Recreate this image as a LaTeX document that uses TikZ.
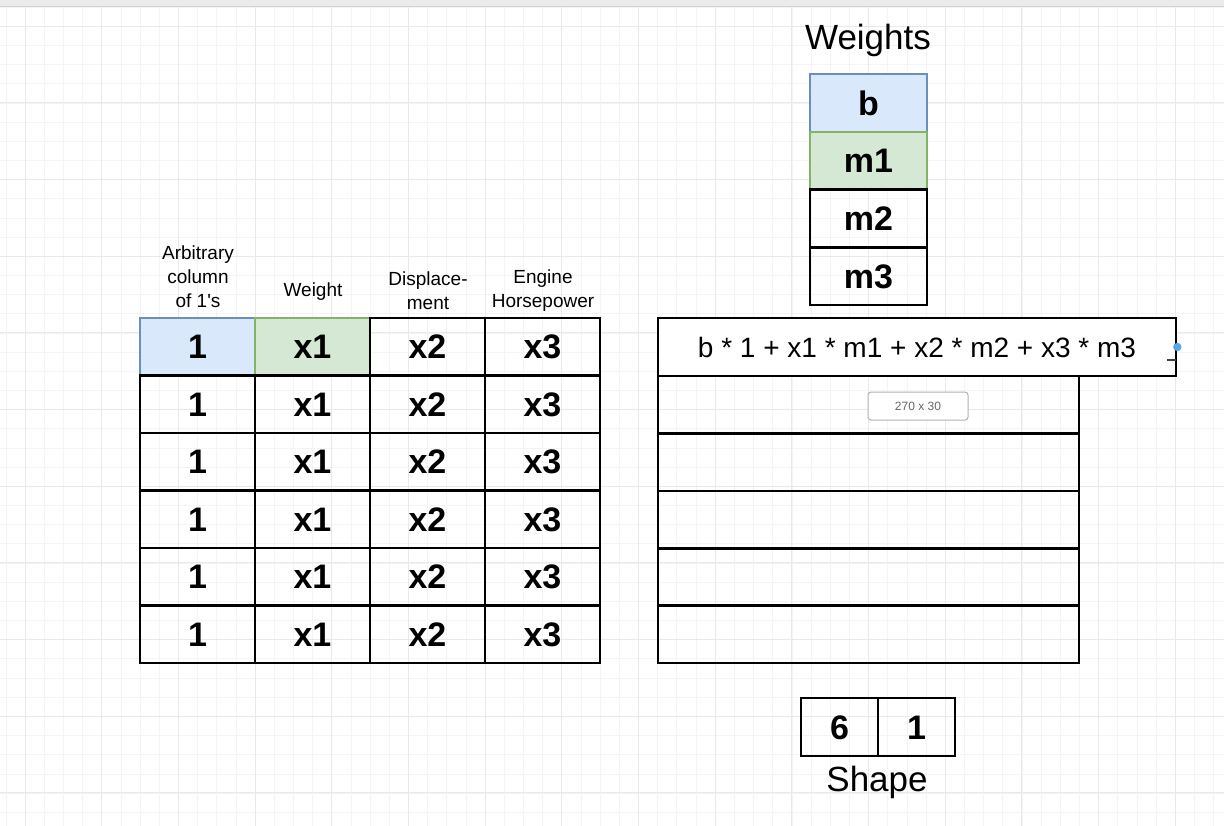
\documentclass[tikz,border=0pt]{standalone}
\usepackage{fontspec}
\setmainfont{Liberation Sans}[Ligatures=TeXOff]
\definecolor{bluefill}{HTML}{DAE8FC}
\definecolor{blueline}{HTML}{6C8EBF}
\definecolor{greenfill}{HTML}{D5E8D4}
\definecolor{greenline}{HTML}{82B366}
\definecolor{gridminor}{HTML}{F4F4F4}
\definecolor{gridmajor}{HTML}{E9E9E9}
\definecolor{handleblue}{HTML}{5AA6E6}
\begin{document}
\begin{tikzpicture}[x=1pt,y=-1pt,
  cellbox/.style={draw=black, line width=2.6pt, minimum width=115pt, minimum height=57.5pt, inner sep=0pt, text height=24.4pt, text depth=0pt, font=\fontsize{34}{40}\selectfont\bfseries},
  bluecell/.style={cellbox, draw=blueline, fill=bluefill, line width=1.8pt},
  greencell/.style={cellbox, draw=greenline, fill=greenfill, line width=1.8pt},
  wcell/.style={cellbox, minimum width=117pt, minimum height=57.75pt},
  hdr/.style={align=center, inner sep=0pt, font=\fontsize{19}{24}\selectfont},
  bigtxt/.style={inner sep=0pt, font=\fontsize{35}{40}\selectfont},
  rowbox/.style={draw=black, line width=2.6pt, minimum width=421pt, minimum height=57.4pt, inner sep=0pt},
  shapecell/.style={cellbox, minimum width=77pt, minimum height=58pt}
]
\useasboundingbox (0,0) rectangle (1224,826);
\fill[white] (0,0) rectangle (1224,826);
% grid
\foreach \i in {0,...,64} {\draw[gridminor, line width=0.6pt] ({5.83+19.17*\i},6) -- ({5.83+19.17*\i},826);}
\foreach \i in {0,...,43} {\draw[gridminor, line width=0.6pt] (0,{7+19.17*\i}) -- (1224,{7+19.17*\i});}
\foreach \i in {0,...,16} {\draw[gridmajor, line width=0.9pt] ({25+76.68*\i},6) -- ({25+76.68*\i},826);}
\foreach \i in {0,...,10} {\draw[gridmajor, line width=0.9pt] (0,{26+76.68*\i}) -- (1224,{26+76.68*\i});}
% top bar
\fill[black!8] (0,0) rectangle (1224,6);
\draw[black!18, line width=0.8pt] (0,6) -- (1224,6);

% headers
\node[hdr] (h1) at (198,277) {Arbitrary\\column\\of 1's};
\node[hdr] (h2) at (313,292) {Weight};
\node[hdr] (h3) at (428,291) {Displace-\\ment};
\node[hdr] (h4) at (543,291) {Engine\\Horsepower};

% left table
\node[bluecell] (c11) at (197.5,346.75) {1};
\node[greencell] (c12) at (312.5,346.75) {x1};
\node[cellbox] (c13) at (427.5,346.75) {x2};
\node[cellbox] (c14) at (542.5,346.75) {x3};
\foreach \r/\y in {2/404.25,3/461.75,4/519.25,5/576.75,6/634.25} {
  \node[cellbox] (c\r1) at (197.5,\y) {1};
  \node[cellbox] (c\r2) at (312.5,\y) {x1};
  \node[cellbox] (c\r3) at (427.5,\y) {x2};
  \node[cellbox] (c\r4) at (542.5,\y) {x3};
}

% weights
\node[bigtxt] (wt) at (868,40) {Weights};
\node[wcell, draw=blueline, fill=bluefill, line width=1.8pt] (wb) at (868.5,102.9) {b};
\node[wcell, draw=greenline, fill=greenfill, line width=1.8pt] (wm1) at (868.5,160.6) {m1};
\node[wcell] (wm2) at (868.5,218.4) {m2};
\node[wcell] (wm3) at (868.5,276.1) {m3};

% result column
\foreach \k/\y in {1/404.7,2/462.1,3/519.5,4/576.9,5/634.3} {
  \node[rowbox] (r\k) at (868.5,\y) {};
}
\node[draw=black, line width=2.6pt, minimum width=518pt, minimum height=58pt, inner sep=0pt, fill=white, font=\fontsize{28}{32}\selectfont] (formula) at (917,347) {b * 1 + x1 * m1 + x2 * m2 + x3 * m3};
\fill[handleblue] (formula.east) circle (4.2pt);
\draw[black!75, line width=2pt] ([xshift=-10pt,yshift=-13pt]formula.east) -- ([xshift=-1pt,yshift=-13pt]formula.east);
\node[draw=black!30, line width=1pt, rounded corners=3pt, fill=white, minimum width=100pt, minimum height=28pt, inner sep=0pt, text=black!60, font=\fontsize{12}{14}\selectfont] (tip) at (918,406) {270 x 30};

% shape
\node[shapecell] (s1) at (839.5,727) {6};
\node[shapecell] (s2) at (916.5,727) {1};
\node[bigtxt] (shp) at (877,782) {Shape};
\end{tikzpicture}
\end{document}
